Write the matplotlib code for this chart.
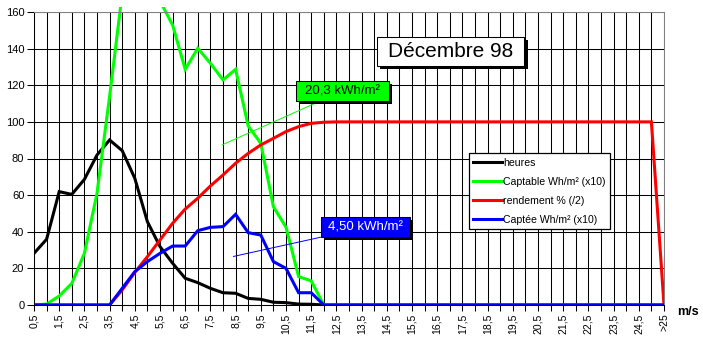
import matplotlib
matplotlib.use('Agg')
import matplotlib.pyplot as plt
import matplotlib.patches as mpatches
import matplotlib.patheffects as pe

plt.rcParams['font.family'] = ['Liberation Sans', 'DejaVu Sans']

# wind speed classes (m/s)
categories = ['0,5', '1', '1,5', '2', '2,5', '3', '3,5', '4', '4,5', '5',
              '5,5', '6', '6,5', '7', '7,5', '8', '8,5', '9', '9,5', '10',
              '10,5', '11', '11,5', '12', '12,5', '13', '13,5', '14', '14,5', '15',
              '15,5', '16', '16,5', '17', '17,5', '18', '18,5', '19', '19,5', '20',
              '20,5', '21', '21,5', '22', '22,5', '23', '23,5', '24', '24,5', '25',
              '>25']

heures = [28.2, 35.9, 61.9, 60.4, 68.6, 81.9, 90.1, 84.3, 69.2, 45.5,
          31.9, 22.8, 14.6, 12.2, 9.1, 6.7, 6.4, 3.6, 3.1, 1.5,
          1.3, 0.5, 0.4, 0, 0, 0, 0, 0, 0, 0,
          0, 0, 0, 0, 0, 0, 0, 0, 0, 0,
          0, 0, 0, 0, 0, 0, 0, 0, 0, 0,
          0]

captable = [0, 0.5, 4.9, 11.8, 28.2, 61, 114, 170, 185, 180,
            166, 152.9, 128.7, 140.2, 132, 122.9, 128.7, 97.8, 88.3, 53.7,
            42.5, 15.5, 13.2, 0, 0, 0, 0, 0, 0, 0,
            0, 0, 0, 0, 0, 0, 0, 0, 0, 0,
            0, 0, 0, 0, 0, 0, 0, 0, 0, 0,
            0]

rendement = [0, 0, 0, 0, 0, 0, 0, 8.2, 17.8, 26.4,
             35.5, 44.6, 52.4, 58.3, 65, 71, 77.4, 82.8, 87.4, 91,
             94.7, 97.4, 99.2, 99.8, 100, 100, 100, 100, 100, 100,
             100, 100, 100, 100, 100, 100, 100, 100, 100, 100,
             100, 100, 100, 100, 100, 100, 100, 100, 100, 100,
             0]

captee = [0, 0, 0, 0, 0, 0, 0, 9.1, 18.2, 23.7,
          28.2, 32.2, 32.2, 40.6, 42.4, 42.8, 49.5, 39.5, 38.2, 23.7,
          20, 6.7, 6.7, 0, 0, 0, 0, 0, 0, 0,
          0, 0, 0, 0, 0, 0, 0, 0, 0, 0,
          0, 0, 0, 0, 0, 0, 0, 0, 0, 0,
          0]

series_names = ['heures', 'Captable Wh/m² (x10)', 'rendement % (/2)', 'Captée Wh/m² (x10)']
series_colors = ['black', '#00ff00', '#ff0000', '#0000ff']

fig = plt.figure(figsize=(7.03, 3.39), dpi=100)
ax = fig.add_axes([34 / 703, 1 - 305 / 339, 630 / 703, 293 / 339])

x = list(range(len(categories)))
# lines may run a little above the top of the plot area, like the original
clip = mpatches.Rectangle((0, 0), 1, 1.018, transform=ax.transAxes)
for vals, name, col in zip([heures, captable, rendement, captee], series_names, series_colors):
    ln, = ax.plot(x, vals, color=col, lw=2.2, label=name, solid_joinstyle='miter')
    ln.set_clip_path(clip)

ax.set_xlim(0, len(categories) - 1)
ax.set_ylim(0, 160)
ax.set_xticks(x)
ax.set_xticklabels([c if i % 2 == 0 else '' for i, c in enumerate(categories)],
                   rotation=90, fontsize=7.5)
ax.set_yticks(range(0, 161, 20))
ax.tick_params(axis='y', labelsize=8, length=5, width=0.75, pad=2)
ax.tick_params(axis='x', length=4, width=0.75, pad=2)
ax.grid(True, color='black', lw=0.75)
ax.set_axisbelow(True)
for s in ['top', 'right']:
    ax.spines[s].set_color('#808080')
    ax.spines[s].set_linewidth(0.75)
for s in ['left', 'bottom']:
    ax.spines[s].set_linewidth(0.75)

fig.text(688 / 703, 1 - 312 / 339, 'm/s', fontsize=9, fontweight='bold', ha='center', va='center')

shadow = [pe.SimplePatchShadow(offset=(2.2, -2.2), shadow_rgbFace='black', alpha=1), pe.Normal()]

# wider than tall padding: mutation_aspect squeezes the vertical pad
t = ax.text(33.08, 138.3, 'Décembre 98', fontsize=15, ha='center', va='center',
            bbox=dict(boxstyle='square,pad=0.53', mutation_aspect=0.47,
                      fc='white', ec='black', lw=0.75))
t.get_bbox_patch().set_path_effects(shadow)

a1 = ax.annotate('20,3 kWh/m²', xy=(14.92, 87.4), xytext=(24.48, 116.8), fontsize=9.5,
                 ha='center', va='center',
                 bbox=dict(boxstyle='square,pad=0.72', mutation_aspect=0.42,
                           fc='#00ff00', ec='black', lw=0.75),
                 arrowprops=dict(arrowstyle='-', color='#00ff00', lw=0.7, shrinkA=0, shrinkB=0))
a1.get_bbox_patch().set_path_effects(shadow)

a2 = ax.annotate('4,50 kWh/m²', xy=(15.82, 26.5), xytext=(26.3, 42.4), fontsize=9.5,
                 ha='center', va='center', color='white',
                 bbox=dict(boxstyle='square,pad=0.53', mutation_aspect=0.57,
                           fc='#0000ff', ec='black', lw=0.75),
                 arrowprops=dict(arrowstyle='-', color='#0000ff', lw=0.7, shrinkA=0, shrinkB=0))
a2.get_bbox_patch().set_path_effects(shadow)

leg = ax.legend(loc='upper left', bbox_to_anchor=(0.690, 0.519), fontsize=7.6,
                fancybox=False, framealpha=1, edgecolor='black', borderpad=0.45,
                handlelength=2.7, handletextpad=0.1, labelspacing=0.85, borderaxespad=0)
leg.get_frame().set_linewidth(0.9)

fig.savefig('out.png', dpi=100)
